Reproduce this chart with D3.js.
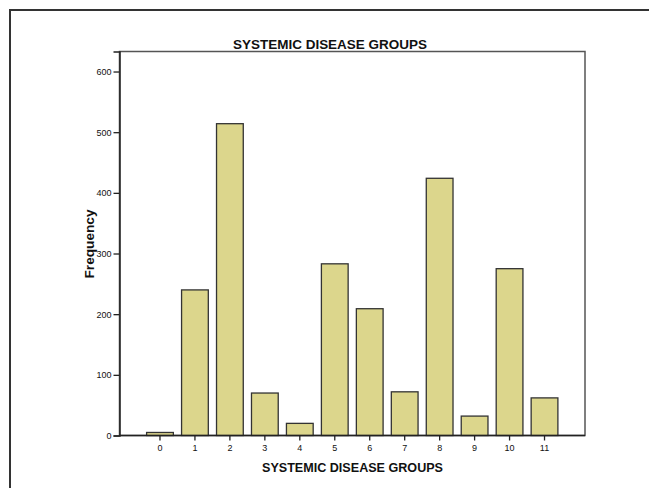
<!DOCTYPE html>
<html>
<head>
<meta charset="utf-8">
<script src="https://cdn.jsdelivr.net/npm/d3@7"></script>
<style>
  html, body { margin: 0; padding: 0; background: #fff; }
  svg { display: block; }
  text { font-family: "Liberation Sans", Arial, sans-serif; fill: #111; }
</style>
</head>
<body>
<script>
const categories = ["0","1","2","3","4","5","6","7","8","9","10","11"];
const frequencies = [5, 240, 514, 70, 20, 283, 209, 72, 424, 32, 275, 62];
const yTicks = [0, 100, 200, 300, 400, 500, 600];
const chartTitle = "SYSTEMIC DISEASE GROUPS";
const xTitle = "SYSTEMIC DISEASE GROUPS";
const yTitle = "Frequency";

const W = 649, H = 488;
const plot = { left: 119.5, top: 51.5, right: 585, bottom: 435.5 };

const svg = d3.select("body").append("svg").attr("width", W).attr("height", H);

// outer frame (left and top edges visible)
svg.append("path")
  .attr("d", `M10,${H} L10,10 L${W},10`)
  .attr("fill", "none").attr("stroke", "#333").attr("stroke-width", 2);

const x = d3.scaleBand().domain(categories)
  .range([plot.left + 23, plot.right - 23])
  .paddingInner(0.235).paddingOuter(0.1175);

const y = d3.scaleLinear().domain([0, 633]).range([plot.bottom, plot.top]);

// plot frame
svg.append("rect")
  .attr("x", plot.left).attr("y", plot.top)
  .attr("width", plot.right - plot.left).attr("height", plot.bottom - plot.top)
  .attr("fill", "none").attr("stroke", "#555").attr("stroke-width", 1.5);

// bars
svg.append("g").selectAll("rect").data(frequencies).join("rect")
  .attr("x", (d, i) => x(categories[i]))
  .attr("y", d => y(d))
  .attr("width", x.bandwidth())
  .attr("height", d => y(0) - y(d))
  .attr("fill", "#dcd68c")
  .attr("stroke", "#333").attr("stroke-width", 1.3);

// y axis
const yAxis = svg.append("g")
  .attr("transform", `translate(${plot.left},0)`)
  .call(d3.axisLeft(y).tickValues(yTicks).tickSize(6).tickPadding(2));
yAxis.select(".domain").attr("stroke", "#222").attr("stroke-width", 1.5);
yAxis.selectAll(".tick line").attr("stroke", "#222").attr("stroke-width", 1.3);
yAxis.selectAll(".tick text").style("font-size", "9px").style("font-family", "Liberation Sans, Arial, sans-serif").attr("fill", "#111");

// x axis
const xAxis = svg.append("g")
  .attr("transform", `translate(0,${plot.bottom})`)
  .call(d3.axisBottom(x).tickSize(5).tickPadding(4));
xAxis.select(".domain").remove();
svg.append("line")
  .attr("x1", plot.left).attr("x2", plot.right)
  .attr("y1", plot.bottom).attr("y2", plot.bottom)
  .attr("stroke", "#222").attr("stroke-width", 1.5);
xAxis.selectAll(".tick line").attr("stroke", "#222").attr("stroke-width", 1.3);
xAxis.selectAll(".tick text").style("font-size", "9px").style("font-family", "Liberation Sans, Arial, sans-serif").attr("fill", "#111");

// titles
svg.append("text")
  .attr("x", 330).attr("y", 48.5)
  .attr("text-anchor", "middle")
  .attr("textLength", 194).attr("lengthAdjust", "spacingAndGlyphs")
  .style("font-size", "13.5px").style("font-weight", "bold")
  .text(chartTitle);

svg.append("text")
  .attr("x", 352.5).attr("y", 472)
  .attr("text-anchor", "middle")
  .attr("textLength", 181).attr("lengthAdjust", "spacingAndGlyphs")
  .style("font-size", "13.5px").style("font-weight", "bold")
  .text(xTitle);

svg.append("text")
  .attr("transform", `translate(94,244) rotate(-90)`)
  .attr("text-anchor", "middle")
  .attr("textLength", 69).attr("lengthAdjust", "spacingAndGlyphs")
  .style("font-size", "13px").style("font-weight", "bold")
  .text(yTitle);
</script>
</body>
</html>
